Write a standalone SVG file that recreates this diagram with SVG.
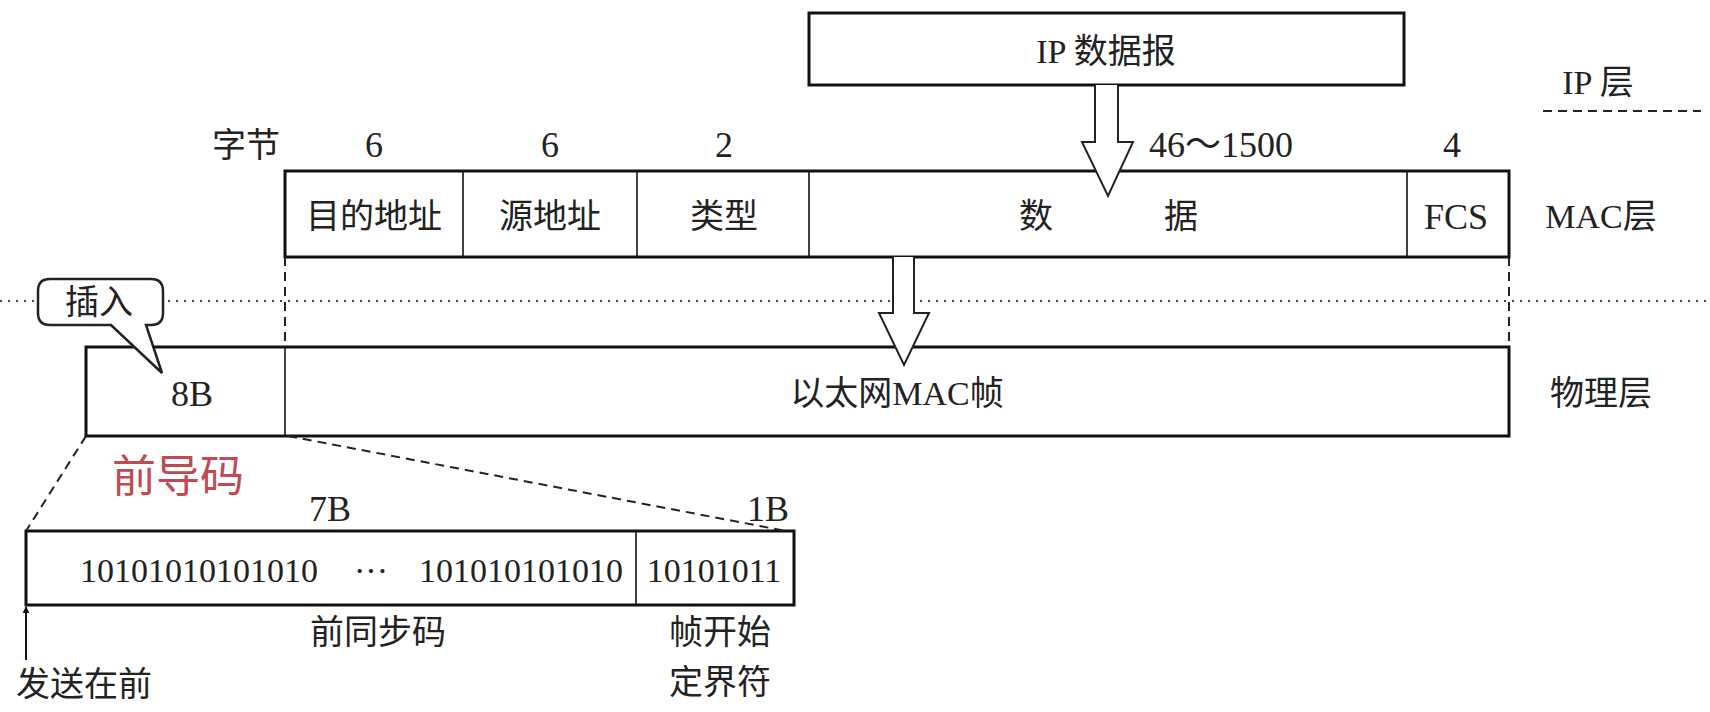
<svg xmlns="http://www.w3.org/2000/svg" width="1710" height="712" viewBox="0 0 1710 712">
<style>
.t{font-family:"Liberation Serif","Noto Sans CJK SC",serif;font-size:34px;fill:#222;text-anchor:middle}
.n{font-size:36px}
.box{fill:#fff;stroke:#111;stroke-width:3}
.div{stroke:#111;stroke-width:1.6;fill:none}
.dash{stroke:#222;stroke-width:2;stroke-dasharray:9,6;fill:none}
.dot{stroke:#444;stroke-width:2;stroke-dasharray:2,6;fill:none}
.barrow{fill:#fff;stroke:#222;stroke-width:2;stroke-linejoin:miter}
</style>
<defs>
<marker id="ah" viewBox="0 0 10 10" refX="9" refY="5" markerWidth="7" markerHeight="10" orient="auto" markerUnits="userSpaceOnUse">
<path d="M0,0 L10,5 L0,10 z" fill="#111"/>
</marker>
</defs>
<rect width="1710" height="712" fill="#fff"/>

<g id="layer-lines">
<line class="dot" x1="0" y1="301" x2="1710" y2="301"/>
<line class="dash" x1="1543" y1="111" x2="1701" y2="111"/>
<text class="t" x="1598" y="94">IP 层</text>
<text class="t" x="1601" y="228">MAC层</text>
<text class="t" x="1601" y="405">物理层</text>
</g>

<g id="ip-datagram">
<rect class="box" x="809" y="13" width="595" height="72"/>
<text class="t" x="1106" y="63">IP 数据报</text>
</g>

<g id="byte-labels">
<text class="t" x="246" y="157">字节</text>
<text class="t n" x="374" y="157">6</text>
<text class="t n" x="550" y="157">6</text>
<text class="t n" x="724" y="157">2</text>
<text class="t n" x="1221" y="157">46～1500</text>
<text class="t n" x="1452" y="157">4</text>
</g>

<g id="mac-frame">
<rect class="box" x="285" y="171" width="1224" height="86"/>
<line class="div" x1="463" y1="171" x2="463" y2="257"/>
<line class="div" x1="637" y1="171" x2="637" y2="257"/>
<line class="div" x1="809" y1="171" x2="809" y2="257"/>
<line class="div" x1="1407" y1="171" x2="1407" y2="257"/>
<text class="t" x="374" y="228">目的地址</text>
<text class="t" x="550" y="228">源地址</text>
<text class="t" x="724" y="228">类型</text>
<text class="t" x="1036" y="228">数</text>
<text class="t" x="1181" y="228">据</text>
<text class="t n" x="1456" y="229">FCS</text>
</g>

<g id="physical-frame">
<rect class="box" x="86" y="347" width="1423" height="89"/>
<line class="div" x1="285" y1="347" x2="285" y2="436"/>
<text class="t n" x="192" y="406">8B</text>
<text class="t" x="897" y="405">以太网MAC帧</text>
</g>

<g id="insert-callout">
<path d="M50,279 H151 Q163,279 163,291 V313 Q163,325 151,325 H146 L162,373 L111,325 H50 Q38,325 38,313 V291 Q38,279 50,279 Z" fill="#fff" stroke="#222" stroke-width="2.5"/>
<text class="t" x="99" y="314">插入</text>
</g>

<g id="preamble-label">
<text x="178" y="492" style="font-family:'Noto Sans CJK SC',sans-serif;font-size:44px;fill:#c04a52;text-anchor:middle">前导码</text>
</g>

<g id="preamble">
<rect class="box" x="26" y="531" width="768" height="74"/>
<line class="div" x1="636" y1="531" x2="636" y2="605"/>
<text class="t n" x="330" y="521">7B</text>
<text class="t n" x="768" y="521">1B</text>
<text class="t" x="199" y="582">10101010101010</text>
<text class="t" x="371" y="582">···</text>
<text class="t" x="521" y="582">101010101010</text>
<text class="t" x="714" y="582">10101011</text>
<text class="t" x="378" y="644">前同步码</text>
<text class="t" x="720" y="644">帧开始</text>
<text class="t" x="720" y="694">定界符</text>
<text class="t" x="84" y="696">发送在前</text>
</g>

<g id="connectors">
<path class="barrow" d="M1095,85 V142 H1082 L1108,196 L1133,142 H1118 V85"/>
<path class="barrow" d="M893,257 V313 H879 L904,365 L929,313 H914 V257"/>
<line class="dash" x1="285" y1="257" x2="285" y2="347"/>
<line class="dash" x1="1509" y1="257" x2="1509" y2="347"/>
<line class="dash" x1="86" y1="436" x2="26" y2="531"/>
<line class="dash" x1="288" y1="436" x2="786" y2="531"/>
<line x1="26" y1="660" x2="26" y2="607" stroke="#111" stroke-width="2" marker-end="url(#ah)"/>
</g>
</svg>
